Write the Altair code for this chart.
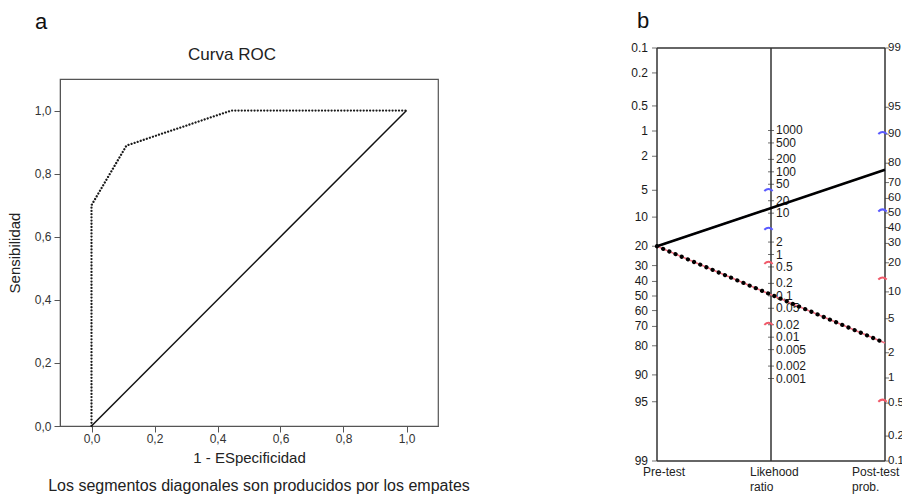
import altair as alt
import numpy as np
import pandas as pd

FONT = "Liberation Sans"

# ---------------- Panel a: ROC curve ----------------
roc_fpr = [0.0, 0.0, 0.111, 0.444, 1.0]
roc_tpr = [0.0, 0.70, 0.889, 1.0, 1.0]
diag_x = [0.0, 1.0]
diag_y = [0.0, 1.0]
axis_values_a = [0.0, 0.2, 0.4, 0.6, 0.8, 1.0]

# ---------------- Panel b: Fagan nomogram ----------------
pretest_ticks = [0.1, 0.2, 0.5, 1, 2, 5, 10, 20, 30, 40, 50, 60, 70, 80, 90, 95, 99]
lr_ticks = [1000, 500, 200, 100, 50, 20, 10, 2, 1, 0.5, 0.2, 0.1, 0.05, 0.02, 0.01, 0.005, 0.002, 0.001]
posttest_ticks = [99, 95, 90, 80, 70, 60, 50, 40, 30, 20, 10, 5, 2, 1, 0.5, 0.2, 0.1]
pretest_prob = 20
lr_positive = 13.3
lr_negative = 0.107
lr_positive_ci = [4.4, 38]
lr_negative_ci = [0.022, 0.66]
axis_names = [["Pre-test"], ["Likehood", "ratio"], ["Post-test", "prob."]]


def logit(p):
    p = np.asarray(p, dtype=float)
    return np.log(p / (100.0 - p))


TOP = float(logit(0.1))
BOT = float(logit(99))
SPAN = BOT - TOP


def u_left(p):
    return logit(p) - TOP


def u_right(p):
    return BOT - logit(p)


def u_mid(lr):
    return (SPAN - np.log(np.asarray(lr, dtype=float))) / 2.0


def post_prob(pre, lr):
    odds = pre / (100.0 - pre) * lr
    return 100.0 * odds / (1.0 + odds)


# ---------- Panel a chart ----------
W_A, H_A = 378, 347
roc_df = pd.DataFrame({"fpr": roc_fpr, "tpr": roc_tpr})
diag_df = pd.DataFrame({"fpr": diag_x, "tpr": diag_y})

label_expr = "replace(format(datum.value, '.1f'), '.', ',')"
xa = alt.X(
    "fpr:Q",
    scale=alt.Scale(domain=[-0.1, 1.1], nice=False, zero=False),
    axis=alt.Axis(
        values=axis_values_a, labelExpr=label_expr, title="1 - ESpecificidad",
        grid=False, tickSize=6, tickColor="#555", domainColor="#555",
        labelFont=FONT, labelFontSize=12, labelColor="#333", labelPadding=1,
        titleFont=FONT, titleFontSize=15, titleFontWeight="normal", titleColor="#222",
        titlePadding=6,
    ),
)
ya = alt.Y(
    "tpr:Q",
    scale=alt.Scale(domain=[0, 1.1], nice=False, zero=False),
    axis=alt.Axis(
        values=axis_values_a, labelExpr=label_expr, title="Sensibilidad",
        grid=False, tickSize=6, tickColor="#555", domainColor="#555",
        labelFont=FONT, labelFontSize=12, labelColor="#333", labelPadding=3,
        titleFont=FONT, titleFontSize=15, titleFontWeight="normal", titleColor="#222",
        titlePadding=12,
    ),
)

roc_line = alt.Chart(roc_df).mark_line(
    color="#1a1a1a", strokeWidth=2.3, strokeDash=[0.01, 3.2], strokeCap="round"
).encode(x=xa, y=ya, order=alt.Order("tpr:Q"))

diag_line = alt.Chart(diag_df).mark_line(color="#111", strokeWidth=1.5).encode(x=xa, y=ya)

lab_a = alt.Chart(pd.DataFrame({"t": ["a"]})).mark_text(
    font=FONT, fontSize=22, align="left", baseline="middle", color="#111"
).encode(x=alt.value(-25), y=alt.value(-57), text="t:N")

title_a = alt.Chart(pd.DataFrame({"t": ["Curva ROC"]})).mark_text(
    font=FONT, fontSize=17, align="center", baseline="middle", color="#222"
).encode(x=alt.value(W_A / 2 - 17), y=alt.value(-24), text="t:N")

foot = alt.Chart(pd.DataFrame({"t": ["Los segmentos diagonales son producidos por los empates"]})).mark_text(
    font=FONT, fontSize=16, align="center", baseline="middle", color="#222"
).encode(x=alt.value(199), y=alt.value(407), text="t:N")

panel_a = alt.layer(roc_line, diag_line, lab_a, title_a, foot).properties(
    width=W_A, height=H_A,
    view=alt.ViewBackground(stroke="#555", strokeWidth=1.2),
)

# ---------- Panel b chart ----------
W_B, H_B = 228, 382
PX_TOTAL = 413.0
u_top_domain = SPAN * (1 - H_B / PX_TOTAL)
xs = alt.Scale(domain=[0, 2], nice=False, zero=False)
ys = alt.Scale(domain=[u_top_domain, SPAN], nice=False, zero=False, reverse=True)


def X(f="x"):
    return alt.X(f"{f}:Q", scale=xs, axis=None)


def Y(f="u"):
    return alt.Y(f"{f}:Q", scale=ys, axis=None)


frame_df = pd.DataFrame({
    "x": [0, 1, 2, 0, 0],
    "x2": [0, 1, 2, 2, 2],
    "u": [0, 0, 0, 0, SPAN],
    "u2": [SPAN, SPAN, SPAN, 0, SPAN],
})
frame = alt.Chart(frame_df).mark_rule(color="#333", strokeWidth=1.5).encode(
    x=X(), x2=alt.X2("x2:Q"), y=Y(), y2=alt.Y2("u2:Q")
)

fmt = lambda v: f"{v:g}"
left_df = pd.DataFrame({"x": 0, "u": u_left(pretest_ticks), "lab": [fmt(v) for v in pretest_ticks]})
mid_df = pd.DataFrame({"x": 1, "u": u_mid(lr_ticks), "lab": [fmt(v) for v in lr_ticks]})
right_df = pd.DataFrame({"x": 2, "u": u_right(posttest_ticks), "lab": [fmt(v) for v in posttest_ticks]})

tick_style = dict(orient="horizontal", color="#333", thickness=1)
left_ticks = alt.Chart(left_df).mark_tick(size=5, **tick_style).encode(x=X(), y=Y(), xOffset=alt.value(-2.5))
mid_ticks = alt.Chart(mid_df).mark_tick(size=6, **tick_style).encode(x=X(), y=Y())
right_ticks = alt.Chart(right_df).mark_tick(size=4, **tick_style).encode(x=X(), y=Y(), xOffset=alt.value(2))

txt_style = dict(font=FONT, color="#1a1a1a", baseline="middle")
left_txt = alt.Chart(left_df).mark_text(align="right", dx=-9, fontSize=12, **txt_style).encode(
    x=X(), y=Y(), text="lab:N")
mid_txt = alt.Chart(mid_df).mark_text(align="left", dx=5, fontSize=12, **txt_style).encode(
    x=X(), y=Y(), text="lab:N")
right_txt = alt.Chart(right_df).mark_text(align="left", dx=3, fontSize=11.5, **txt_style).encode(
    x=X(), y=Y(), text="lab:N")

pos_post = post_prob(pretest_prob, lr_positive)
neg_post = post_prob(pretest_prob, lr_negative)
pos_df = pd.DataFrame({"x": [0, 2], "u": [float(u_left(pretest_prob)), float(u_right(pos_post))]})
neg_df = pd.DataFrame({"x": [0, 2], "u": [float(u_left(pretest_prob)), float(u_right(neg_post))]})

pos_blue = alt.Chart(pos_df).mark_line(color="#5b5bff", strokeWidth=1.5).encode(x=X(), y=Y())
pos_black = alt.Chart(pos_df).mark_line(color="#000", strokeWidth=2.6).encode(x=X(), y=Y())
neg_red = alt.Chart(neg_df).mark_line(color="#f07080", strokeWidth=1.6).encode(x=X(), y=Y())
neg_dots = alt.Chart(neg_df).mark_line(
    color="#000", strokeWidth=4.2, strokeDash=[0.01, 6.7], strokeCap="round"
).encode(x=X(), y=Y())

arc_path = "M -1 0.45 Q 0 -0.55 1 0.45"
ci_rows = []
for lr, col in [(lr_positive_ci[0], "blue"), (lr_positive_ci[1], "blue"),
                (lr_negative_ci[0], "red"), (lr_negative_ci[1], "red")]:
    ci_rows.append({"x": 1, "u": float(u_mid(lr)), "c": col})
    ci_rows.append({"x": 2, "u": float(u_right(post_prob(pretest_prob, lr))), "c": col})
ci_df = pd.DataFrame(ci_rows)
ci_marks = alt.Chart(ci_df).mark_point(
    shape=arc_path, filled=False, size=70, strokeWidth=2, opacity=1
).encode(
    x=X(), y=Y(), xOffset=alt.value(-2.5),
    color=alt.Color("c:N", scale=alt.Scale(domain=["blue", "red"], range=["#5a5aff", "#f05a6a"]), legend=None),
)

names_df = pd.DataFrame({"x": [0, 1, 2], "u": SPAN, "lab": axis_names, "dx": [-14, -21, -33]})
name_layers = []
for i in range(3):
    name_layers.append(
        alt.Chart(names_df.iloc[[i]]).mark_text(
            font=FONT, fontSize=12, color="#222", align="left", baseline="top",
            dx=int(names_df.dx.iloc[i]), dy=6, lineHeight=15,
        ).encode(x=X(), y=Y(), text="lab")
    )

lab_b = alt.Chart(pd.DataFrame({"t": ["b"]})).mark_text(
    font=FONT, fontSize=22, align="left", baseline="middle", color="#111"
).encode(x=alt.value(-20), y=alt.value(-58), text="t:N")

panel_b = alt.layer(
    frame, left_ticks, mid_ticks, right_ticks, left_txt, mid_txt, right_txt,
    neg_red, neg_dots, pos_blue, pos_black, ci_marks, *name_layers, lab_b,
).properties(width=W_B, height=H_B, view=alt.ViewBackground(strokeOpacity=0))

chart = alt.hconcat(panel_a, panel_b, spacing=219, bounds="flush").configure(
    padding={"left": -2, "top": 2, "right": -2, "bottom": 0}
)

chart.save("out.html", embed_options={"renderer": "svg", "actions": False})
